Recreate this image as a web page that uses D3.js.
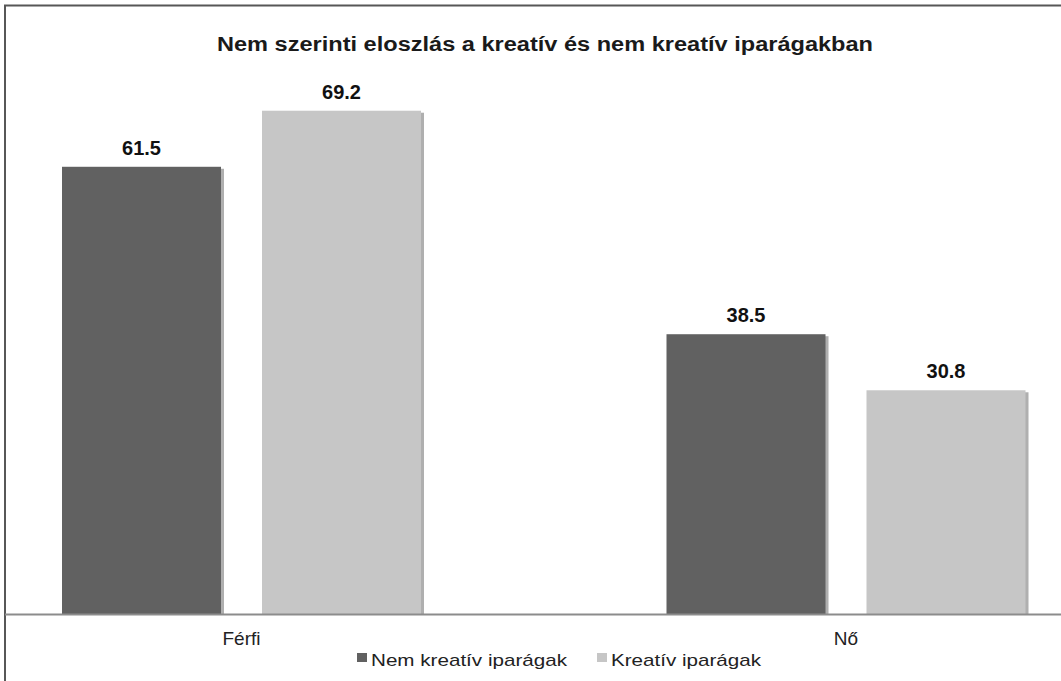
<!DOCTYPE html>
<html>
<head>
<meta charset="utf-8">
<script src="https://cdn.jsdelivr.net/npm/d3@7"></script>
<style>
  html, body { margin: 0; padding: 0; background: #fff; }
  svg { display: block; font-family: "Liberation Sans", Arial, sans-serif; }
</style>
</head>
<body>
<svg id="chart" width="1061" height="681"></svg>
<script>
const categories = ["Férfi", "Nő"];
const seriesNames = ["Nem kreatív iparágak", "Kreatív iparágak"];
const nemKreativ = [61.5, 38.5];
const kreativ = [69.2, 30.8];
const titleText = "Nem szerinti eloszlás a kreatív és nem kreatív iparágakban";

const colors = ["#616161", "#c6c6c6"];
const seriesValues = [nemKreativ, kreativ];

const svg = d3.select("#chart");
const W = 1061, H = 681;
const baseY = 614.5;

// frame (top and left)
svg.append("path")
  .attr("d", `M5,${H} L5,5.5 L${W},5.5`)
  .attr("fill", "none").attr("stroke", "#575757").attr("stroke-width", 2);

// title
svg.append("text")
  .attr("x", 217).attr("y", 51)
  .attr("font-size", 20).attr("font-weight", "bold").attr("fill", "#1a1a1a")
  .attr("textLength", 656).attr("lengthAdjust", "spacingAndGlyphs")
  .text(titleText);

const y = d3.scaleLinear().domain([0, 80]).range([baseY, baseY - 80 * 7.28]);
const x0 = d3.scaleBand().domain(categories).range([241.5 - 302.25, 846 + 302.25]);
const x1 = d3.scaleBand().domain(d3.range(seriesNames.length)).range([0, 359]).paddingInner(0.205);

const data = [];
categories.forEach((c, ci) => {
  seriesValues.forEach((vals, si) => data.push({ c, si, v: vals[ci] }));
});

const groupOffset = c => x0(c) + (x0.bandwidth() - 359) / 2;

// shadows
svg.append("g").selectAll("rect").data(data).join("rect")
  .attr("x", d => groupOffset(d.c) + x1(d.si) + 3)
  .attr("y", d => y(d.v) + 2)
  .attr("width", x1.bandwidth())
  .attr("height", d => baseY - y(d.v) - 2)
  .attr("fill", "#7a7a7a").attr("opacity", 0.6);

svg.append("g").selectAll("rect").data(data).join("rect")
  .attr("x", d => groupOffset(d.c) + x1(d.si))
  .attr("y", d => y(d.v))
  .attr("width", x1.bandwidth())
  .attr("height", d => baseY - y(d.v))
  .attr("fill", d => colors[d.si]);

// value labels
svg.append("g").selectAll("text").data(data).join("text")
  .attr("x", d => groupOffset(d.c) + x1(d.si) + x1.bandwidth() / 2)
  .attr("y", d => y(d.v) - 12)
  .attr("text-anchor", "middle")
  .attr("font-size", 20).attr("font-weight", "bold").attr("fill", "#111")
  .text(d => d.v.toFixed(1));

// axis
const axis = d3.axisBottom(x0).tickSize(0).tickPadding(17);
const ag = svg.append("g").attr("transform", `translate(0,${baseY})`).call(axis);
ag.select(".domain").remove();
ag.append("line").attr("x1", 5).attr("x2", W).attr("y1", 0).attr("y2", 0)
  .attr("stroke", "#8c8c8c").attr("stroke-width", 2);
ag.selectAll(".tick text").attr("font-size", 19).attr("fill", "#222")
  .attr("font-family", "Liberation Sans, Arial, sans-serif");

// legend
const legend = svg.append("g");
const lx = [357, 597];
const lw = [196, 150];
seriesNames.forEach((s, i) => {
  legend.append("rect").attr("x", lx[i]).attr("y", 653).attr("width", 10).attr("height", 9)
    .attr("fill", colors[i]);
  legend.append("text").attr("x", lx[i] + 14).attr("y", 666)
    .attr("font-size", 17).attr("fill", "#222")
    .attr("textLength", lw[i]).attr("lengthAdjust", "spacingAndGlyphs")
    .text(s);
});
</script>
</body>
</html>
